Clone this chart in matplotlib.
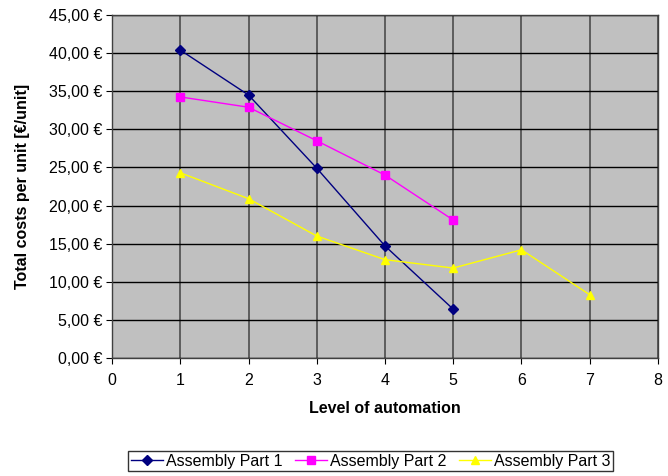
import matplotlib.pyplot as plt
from matplotlib.ticker import FuncFormatter, MultipleLocator

plt.rcParams['font.family'] = ['Liberation Sans', 'DejaVu Sans']

# Kosten je Einheit pro Automatisierungsstufe
levels_1 = [1, 2, 3, 4, 5]
part_1 = [40.4, 34.5, 24.9, 14.7, 6.4]

levels_2 = [1, 2, 3, 4, 5]
part_2 = [34.25, 32.9, 28.5, 24.0, 18.1]

levels_3 = [1, 2, 3, 4, 5, 6, 7]
part_3 = [24.3, 20.9, 16.0, 12.9, 11.8, 14.2, 8.3]

series_names = ["Assembly Part 1", "Assembly Part 2", "Assembly Part 3"]

fig = plt.figure(figsize=(6.68, 4.76), dpi=100)
ax = fig.add_axes([0.1677, 0.2479, 0.8173, 0.7206])
ax.set_facecolor('#c0c0c0')

ax.plot(levels_1, part_1, color='#000080', lw=1, marker='D', ms=5,
        label=series_names[0], zorder=3)
ax.plot(levels_2, part_2, color='#ff00ff', lw=1, marker='s', ms=5.5,
        label=series_names[1], zorder=3)
ax.plot(levels_3, part_3, color='#ffff00', lw=1, marker='^', ms=6,
        label=series_names[2], zorder=3)

ax.set_xlim(0, 8)
ax.set_ylim(0, 45)
ax.xaxis.set_major_locator(MultipleLocator(1))
ax.yaxis.set_major_locator(MultipleLocator(5))
ax.yaxis.set_major_formatter(FuncFormatter(lambda v, p: f"{v:.2f} €".replace('.', ',')))

ax.grid(axis='y', color='black', lw=1)
ax.grid(axis='x', color='#555555', lw=1.3)
ax.set_axisbelow(True)

for s in ax.spines.values():
    s.set_color('#404040')
    s.set_linewidth(1)

ax.tick_params(labelsize=11.5, length=4, direction='out', colors='black', pad=3)
ax.tick_params(axis='x', pad=7)

ax.set_xlabel("Level of automation", fontsize=11.5, fontweight='bold')
ax.set_ylabel("Total costs per unit [€/unit]", fontsize=11.5, fontweight='bold')
ax.xaxis.set_label_coords(0.5, -0.125)
ax.yaxis.set_label_coords(-0.151, 0.5)

leg = fig.legend(loc='center', bbox_to_anchor=(0.555, 0.031), ncol=3, fontsize=11.5,
                 frameon=True, fancybox=False, edgecolor='black', borderpad=0.15,
                 handlelength=2.0, handletextpad=0.2, columnspacing=0.8, borderaxespad=0)
leg.get_frame().set_linewidth(1)

fig.savefig('out.png', dpi=100)
